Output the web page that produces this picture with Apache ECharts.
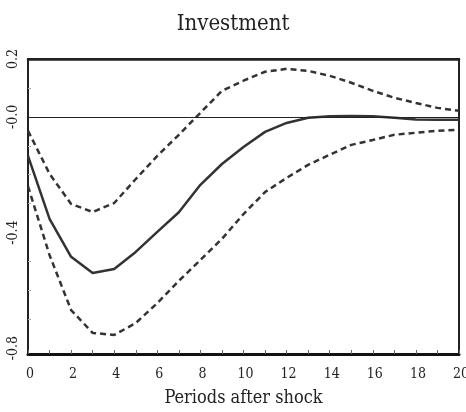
<!DOCTYPE html>
<html>
<head>
<meta charset="utf-8">
<script src="https://cdn.jsdelivr.net/npm/echarts@6/dist/echarts.min.js"></script>
<style>html,body{margin:0;padding:0;background:#fff;overflow:hidden}#c{width:466px;height:412px}</style>
</head>
<body>
<div id="c"></div>
<script>
var periods = [0,1,2,3,4,5,6,7,8,9,10,11,12,13,14,15,16,17,18,19,20];
var response = [-0.135,-0.353,-0.484,-0.540,-0.526,-0.467,-0.398,-0.330,-0.235,-0.163,-0.104,-0.052,-0.021,-0.003,0.002,0.003,0.002,-0.003,-0.009,-0.010,-0.010];
var upperBand = [-0.048,-0.197,-0.301,-0.329,-0.298,-0.215,-0.135,-0.062,0.014,0.090,0.125,0.156,0.166,0.159,0.142,0.118,0.090,0.066,0.048,0.031,0.021];
var lowerBand = [-0.240,-0.478,-0.668,-0.747,-0.754,-0.713,-0.644,-0.567,-0.495,-0.422,-0.336,-0.260,-0.211,-0.166,-0.131,-0.097,-0.080,-0.062,-0.055,-0.048,-0.045];
var yTickValues = [0.2, 0, -0.4, -0.8];
var yTickLabels = ['0.2', '-0.0', '-0.4', '-0.8'];
var xTickValues = [0,2,4,6,8,10,12,14,16,18,20];
var titleText = 'Investment';
var xName = 'Periods after shock';

var font = '"DejaVu Serif Condensed", "Liberation Serif", serif';
var dark = '#333';
function pairs(arr){ return periods.map(function(p,i){ return [p, arr[i]]; }); }

var chart = echarts.init(document.getElementById('c'));
chart.setOption({
  animation: false,
  title: { text: titleText, left: 'center', top: 8, textStyle: { fontFamily: font, fontWeight: 'normal', fontSize: 22, color: '#222' } },
  grid: { left: 28, right: 7, top: 59, bottom: 58, containLabel: false, outerBoundsMode: 'none', show: true, borderColor: '#222', borderWidth: 2 },
  xAxis: [{
    type: 'value', min: 0, max: 20, interval: 1,
    name: xName, nameLocation: 'middle', nameGap: 35,
    nameTextStyle: { fontFamily: font, fontSize: 18, color: '#222' },
    axisLine: { onZero: false, lineStyle: { color: '#111', width: 3 } },
    axisTick: { inside: true, length: 4, lineStyle: { color: '#666' } },
    axisLabel: { customValues: xTickValues, fontFamily: font, fontSize: 14, color: '#222', margin: 13, padding: [0,0,0,4] },
    splitLine: { show: false }
  },{
    type: 'value', min: 0, max: 20, position: 'top',
    axisLine: { show: true, onZero: false, lineStyle: { color: '#222', width: 2.5 } },
    axisTick: { show: false }, axisLabel: { show: false }, splitLine: { show: false }
  }],
  yAxis: [{
    type: 'value', min: -0.82, max: 0.2,
    axisLine: { show: true, onZero: false, lineStyle: { color: '#222', width: 2 } },
    axisTick: { show: true, inside: true, length: 3, customValues: [0.1,-0.1,-0.2,-0.3,-0.5,-0.6,-0.7], lineStyle: { color: '#aaa' } },
    axisLabel: {
      customValues: yTickValues, rotate: 90, fontFamily: font, fontSize: 14, color: '#222', margin: 8,
      formatter: function(v){ for (var i=0;i<yTickValues.length;i++){ if (Math.abs(v-yTickValues[i])<1e-9) return yTickLabels[i]; } return ''; }
    },
    splitLine: { show: false }
  },{
    type: 'value', min: -0.82, max: 0.2, position: 'right',
    axisLine: { show: true, onZero: false, lineStyle: { color: '#222', width: 2 } },
    axisTick: { show: false }, axisLabel: { show: false }, splitLine: { show: false }
  }],
  series: [{
    type: 'line', data: pairs(response), symbol: 'none',
    lineStyle: { color: dark, width: 2.5 },
    markLine: { silent: true, symbol: 'none', label: { show: false }, lineStyle: { color: '#222', width: 1, type: 'solid' }, data: [{ yAxis: 0 }] }
  },{
    type: 'line', data: pairs(upperBand), symbol: 'none',
    lineStyle: { color: dark, width: 2.5, type: [6,4] }
  },{
    type: 'line', data: pairs(lowerBand), symbol: 'none',
    lineStyle: { color: dark, width: 2.5, type: [6,4] }
  }]
});
</script>
</body>
</html>
